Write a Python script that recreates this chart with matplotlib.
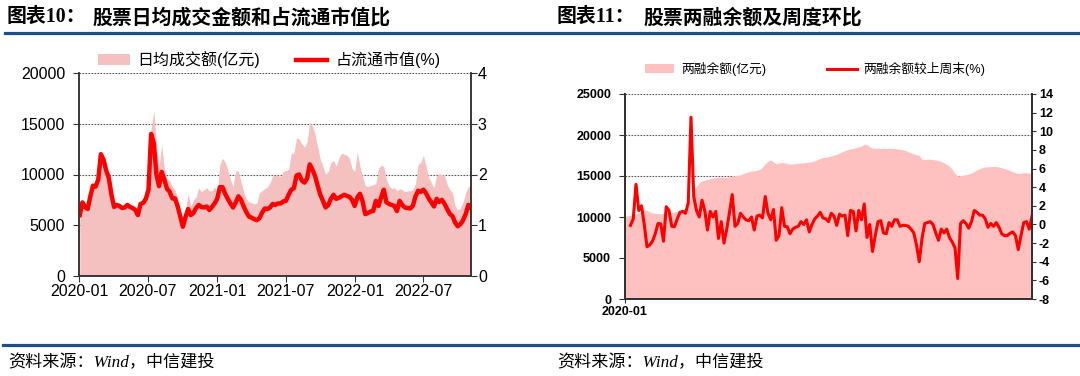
import numpy as np
import pandas as pd
import matplotlib
matplotlib.use("Agg")
import matplotlib.pyplot as plt
import matplotlib.dates as mdates
from matplotlib.lines import Line2D
from matplotlib.patches import Patch

plt.rcParams['font.family'] = ['Liberation Sans', 'Noto Sans CJK SC']
plt.rcParams['axes.unicode_minus'] = False

# weekly dates, both charts
weeks = pd.date_range('2020-01-03', periods=149, freq='W-FRI')

# chart 10: average daily turnover (亿元) and turnover / free-float market cap (%)
turnover = [
    5800, 7300, 6900, 6700, 8000, 9000, 9000, 9700, 12300, 11700,
    10600, 9800, 8100, 6900, 7100, 7000, 6800, 6900, 7200, 7000,
    6900, 6800, 6300, 7400, 7600, 8000, 9200, 14500, 16300, 13000,
    10800, 12900, 10500, 9500, 9400, 8800, 8500, 7700, 6300, 5400,
    6500, 8100, 6900, 7500, 7800, 8700, 8300, 8500, 8700, 8400,
    8400, 8800, 8100, 11000, 11600, 11200, 10500, 9500, 8800, 10400,
    10300, 9300, 8300, 7600, 7300, 7200, 7100, 7200, 8200, 8400,
    8600, 8800, 9200, 9900, 9900, 9900, 9800, 10300, 10400, 10500,
    12100, 12100, 13600, 13500, 13000, 12700, 13200, 15200, 14800, 14000,
    12700, 11500, 10800, 10000, 10300, 11200, 11400, 10800, 11600, 12100,
    12000, 11900, 11600, 10600, 10300, 12200, 10800, 9800, 8900, 8800,
    8900, 9000, 9100, 10600, 10900, 10800, 9500, 8900, 8600, 8700,
    8400, 8600, 8500, 8300, 8400, 8400, 8500, 9100, 11000, 11200,
    11900, 10800, 9700, 9200, 8700, 9900, 10100, 10000, 9900, 9000,
    8500, 8200, 6900, 6500, 6700, 7300, 8200, 8800, 8900,
]
turnover_ratio = [
    1.20, 1.45, 1.36, 1.32, 1.57, 1.78, 1.76, 1.90, 2.40, 2.29,
    2.08, 1.93, 1.60, 1.36, 1.40, 1.38, 1.34, 1.35, 1.40, 1.36,
    1.34, 1.30, 1.20, 1.42, 1.44, 1.52, 1.70, 2.80, 2.62, 2.00,
    1.77, 2.05, 1.90, 1.72, 1.66, 1.53, 1.53, 1.38, 1.18, 0.97,
    1.16, 1.32, 1.20, 1.24, 1.34, 1.40, 1.36, 1.35, 1.37, 1.30,
    1.36, 1.43, 1.52, 1.75, 1.75, 1.62, 1.52, 1.43, 1.35, 1.45,
    1.57, 1.50, 1.37, 1.26, 1.17, 1.15, 1.12, 1.10, 1.14, 1.25,
    1.33, 1.32, 1.35, 1.42, 1.40, 1.43, 1.43, 1.47, 1.48, 1.60,
    1.70, 1.73, 1.98, 2.00, 1.88, 1.84, 1.92, 2.20, 2.10, 1.97,
    1.78, 1.60, 1.48, 1.35, 1.40, 1.52, 1.60, 1.52, 1.54, 1.57,
    1.60, 1.58, 1.56, 1.50, 1.38, 1.55, 1.62, 1.47, 1.22, 1.24,
    1.27, 1.28, 1.48, 1.38, 1.55, 1.70, 1.45, 1.42, 1.40, 1.38,
    1.28, 1.48, 1.40, 1.35, 1.34, 1.33, 1.38, 1.57, 1.68, 1.66,
    1.70, 1.63, 1.53, 1.45, 1.37, 1.52, 1.46, 1.50, 1.42, 1.32,
    1.22, 1.18, 1.05, 0.98, 1.02, 1.10, 1.22, 1.40, 1.34,
]

# chart 11: margin balance (亿元) and week-on-week change (%)
margin = [
    10100, 10150, 10200, 10300, 10400, 10500, 10700, 10900, 10800, 10600,
    10500, 10450, 10400, 10400, 10450, 10500, 10500, 10550, 10600, 10700,
    10800, 10900, 11100, 11400, 12500, 13400, 13700, 14200, 14400, 14500,
    14600, 14700, 14750, 14800, 14850, 14850, 14850, 14800, 14900, 15000,
    15050, 15100, 15150, 15300, 15400, 15500, 15600, 15650, 15700, 15800,
    16100, 16500, 16800, 16950, 16700, 16450, 16600, 16650, 16600, 16500,
    16450, 16450, 16500, 16550, 16600, 16600, 16650, 16700, 16750, 16850,
    17000, 17150, 17250, 17300, 17350, 17450, 17550, 17650, 17800, 17950,
    18100, 18200, 18300, 18350, 18450, 18550, 18650, 18900, 18800, 18550,
    18400, 18350, 18400, 18350, 18400, 18350, 18400, 18350, 18350, 18300,
    18250, 18200, 18100, 17950, 17800, 17700, 17600, 17500, 17050, 17000,
    17050, 17050, 17000, 16950, 16850, 16750, 16600, 16400, 16200, 15800,
    15300, 15000, 15050, 15100, 15150, 15250, 15350, 15550, 15750, 15900,
    16050, 16100, 16100, 16150, 16150, 16150, 16100, 16000, 15900, 15800,
    15650, 15500, 15400, 15300, 15350, 15400, 15400, 15350, 15350,
]
margin_wow = [
    np.nan, np.nan, -0.1, 0.6, 4.3, 1.5, 2.0, 0.0, -2.4, -2.2,
    -1.8, -1.0, 0.1, 0.05, -1.8, 1.9, 1.5, -0.2, -0.24, 0.6,
    1.3, 1.4, 1.2, 2.3, 11.5, 3.0, 1.5, 0.8, 2.6, 1.5,
    -0.6, 1.4, 0.8, 1.4, -1.5, 0.3, -2.0, -0.5, 1.3, 3.2,
    -0.2, 0.1, 1.2, 0.8, 0.5, 0.4, 0.8, -0.6, 0.9, 1.0,
    0.7, 3.0, 1.2, 0.5, 1.6, -1.7, -1.2, 1.8, -0.2, -0.24,
    -1.0, -0.5, -0.3, -0.2, 0.3, 0.0, 0.5, -0.8, 0.0, 0.6,
    0.9, 1.3, 0.7, 0.6, 0.3, 1.2, 0.9, -0.1, 1.1, 0.9,
    1.0, -1.2, 1.5, 1.4, -0.7, 1.5, 0.5, 2.2, -1.4, 0.0,
    -2.9, -1.2, 0.3, 0.4, -0.9, -1.0, 0.2, -0.2, 0.5, 0.5,
    -0.2, -0.1, -0.1, -0.2, -0.5, -0.9, -2.2, -4.0, -1.5, 0.1,
    0.2, 0.3, 0.0, -0.9, -1.7, -0.5, -0.9, -0.5, -1.4, -1.9,
    -2.5, -5.8, 0.1, 0.4, 0.1, -0.4, 0.3, 1.5, 1.3, 1.0,
    1.0, 0.6, -0.3, 0.1, -0.2, 0.2, -0.3, -1.0, -1.2, -1.2,
    -0.95, -0.8, -1.2, -2.7, -1.2, 0.2, 0.3, -0.5, 0.9,
]

W, H = 1080, 376
fig = plt.figure(figsize=(W / 100, H / 100), dpi=100)

def fx(px):
    return px / W

def fy(py):
    return 1 - py / H

navy = '#1b4f86'
cjk = ['Noto Sans CJK SC']
serif_cjk = ['Liberation Serif', 'Noto Sans CJK SC']

# titles and rules
fig.text(fx(7), fy(17), '图表10：', fontsize=14.3, weight='bold', va='center', family=serif_cjk)
fig.text(fx(92), fy(17), '股票日均成交金额和占流通市值比', fontsize=14.3, weight='bold', va='center', family=cjk)
fig.text(fx(557), fy(17), '图表11：', fontsize=14.3, weight='bold', va='center', family=serif_cjk)
fig.text(fx(643), fy(17), '股票两融余额及周度环比', fontsize=14.3, weight='bold', va='center', family=cjk)
fig.add_artist(Line2D([fx(5), fx(1078)], [fy(33), fy(33)], color=navy, lw=2.3))
fig.add_artist(Line2D([fx(3), fx(1078)], [fy(345), fy(345)], color=navy, lw=2.3))
fig.text(fx(8), fy(363), '资料来源：Wind，中信建投', fontsize=12.3, style='italic', va='center',
         family=serif_cjk)
fig.text(fx(557), fy(363), '资料来源：Wind，中信建投', fontsize=12.3, style='italic', va='center',
         family=serif_cjk)

# ---- chart 10 ----
ax1 = fig.add_axes([fx(79), fy(276), fx(471 - 79), (276 - 73) / H])
ax1b = ax1.twinx()
for v in [5000, 10000, 15000, 20000]:
    ax1.axhline(v, color='#555555', lw=0.8, ls=(0, (1.5, 1.2)), zorder=0)
ax1.fill_between(weeks, 0, turnover, color='#f5c0c0', lw=0, zorder=2)
ax1b.plot(weeks, turnover_ratio, color='#ff0000', lw=3.2, solid_joinstyle='round')
ax1.set_ylim(0, 20000)
ax1b.set_ylim(0, 4)
ax1.set_yticks([0, 5000, 10000, 15000, 20000])
ax1b.set_yticks([0, 1, 2, 3, 4])
ax1.set_xlim(pd.Timestamp('2020-01-01'), weeks[-1])
ax1.xaxis.set_major_locator(mdates.MonthLocator(bymonth=[1, 7]))
ax1.xaxis.set_major_formatter(mdates.DateFormatter('%Y-%m'))
for a in (ax1, ax1b):
    a.spines['top'].set_visible(False)
    for s in ('left', 'right', 'bottom'):
        a.spines[s].set_color('#333333')
        a.spines[s].set_linewidth(1.1)
ax1.tick_params(axis='y', labelsize=11.5, length=4, pad=6, color='#333333')
ax1.tick_params(axis='x', labelsize=11.5, length=4, pad=2, color='#333333')
ax1b.tick_params(axis='y', labelsize=11.5, length=4, pad=1, color='#333333')
h1 = [Patch(facecolor='#f5c0c0', edgecolor='none'),
      Line2D([], [], color='#ff0000', lw=3.2)]
ax1b.legend(h1, ['日均成交额(亿元)', '占流通市值(%)'], loc='center', bbox_to_anchor=(0.485, 1.064),
            ncol=2, frameon=False, fontsize=11.5, handlelength=2.0, handletextpad=0.5,
            columnspacing=2.2, borderaxespad=0)

# ---- chart 11 ----
ax2 = fig.add_axes([fx(625), fy(299), fx(1032 - 625), (299 - 94) / H])
ax2b = ax2.twinx()
for v in [5000, 10000, 15000, 20000, 25000]:
    ax2.axhline(v, color='#555555', lw=0.8, ls=(0, (1.5, 1.2)), zorder=0)
ax2.fill_between(weeks, 0, margin, color='#ffc0c0', lw=0, zorder=2)
ax2b.plot(weeks, margin_wow, color='#ff0000', lw=2.2)
ax2.set_ylim(0, 25000)
ax2b.set_ylim(-8, 14)
ax2.set_yticks(np.arange(0, 25001, 5000))
ax2b.set_yticks(np.arange(-8, 15, 2))
ax2.set_xlim(weeks[0], weeks[-1])
ax2.set_xticks([weeks[0]])
ax2.set_xticklabels(['2020-01'])
for a in (ax2, ax2b):
    a.spines['top'].set_visible(False)
    for s in ('left', 'right', 'bottom'):
        a.spines[s].set_color('#333333')
        a.spines[s].set_linewidth(1.4)
for lab in ax2.get_yticklabels() + ax2b.get_yticklabels() + ax2.get_xticklabels():
    lab.set_fontweight('bold')
ax2.tick_params(axis='y', labelsize=9, length=4, pad=6, color='#333333')
ax2.tick_params(axis='x', labelsize=9, length=3, pad=2, color='#333333')
ax2b.tick_params(axis='y', labelsize=9, length=3, pad=2, color='#333333')
h2 = [Patch(facecolor='#ffc0c0', edgecolor='none'),
      Line2D([], [], color='#ff0000', lw=2.2)]
ax2b.legend(h2, ['两融余额(亿元)', '两融余额较上周末(%)'], loc='center', bbox_to_anchor=(0.467, 1.122),
            ncol=2, frameon=False, fontsize=9.2, handlelength=2.3, handletextpad=0.5,
            columnspacing=4.8, borderaxespad=0)

fig.savefig('out.png', dpi=100)
